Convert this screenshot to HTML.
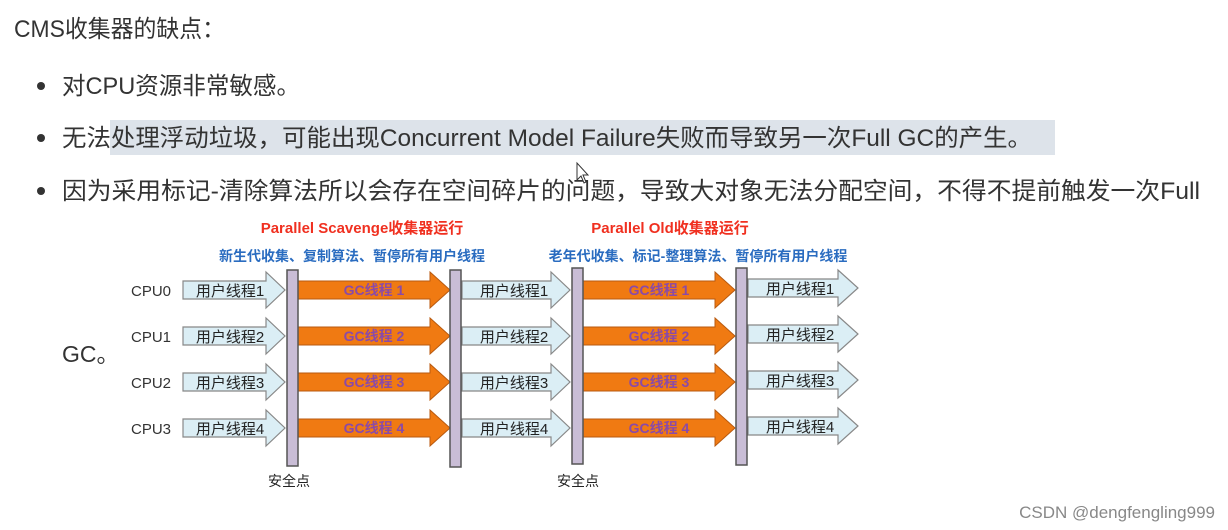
<!DOCTYPE html>
<html><head><meta charset="utf-8"><style>
html,body{margin:0;padding:0;background:#fff;}
svg{display:block;}
</style></head><body>
<svg width="1228" height="530" viewBox="0 0 1228 530" xmlns="http://www.w3.org/2000/svg">
<rect width="1228" height="530" fill="#fff"/>
<g font-family="'Liberation Sans','Noto Sans CJK SC',sans-serif" fill="#333" font-size="24">
<text x="14" y="37" textLength="211" lengthAdjust="spacingAndGlyphs">CMS收集器的缺点：</text>
<circle cx="41" cy="86" r="4" fill="#333"/>
<text x="62" y="94" textLength="238" lengthAdjust="spacingAndGlyphs">对CPU资源非常敏感。</text>
<rect x="110" y="120" width="945" height="35" fill="#dde3ea"/>
<circle cx="41" cy="138" r="4" fill="#333"/>
<text x="62" y="146" textLength="970" lengthAdjust="spacingAndGlyphs">无法处理浮动垃圾，可能出现Concurrent Model Failure失败而导致另一次Full GC的产生。</text>
<circle cx="41" cy="191" r="4" fill="#333"/>
<text x="62" y="199" textLength="1138" lengthAdjust="spacingAndGlyphs">因为采用标记-清除算法所以会存在空间碎片的问题，导致大对象无法分配空间，不得不提前触发一次Full</text>
<text x="62" y="362" font-size="23">GC。</text>
</g>
<path d="M577,163 L577,180 L581,176 L584,183 L586,182 L583,175 L588,175 Z" fill="#fff" stroke="#333" stroke-width="1"/>
<g font-family="'Liberation Sans','Noto Sans CJK SC',sans-serif" font-weight="bold" text-anchor="middle">
<text x="362" y="233" fill="#f03020" font-size="15">Parallel Scavenge收集器运行</text>
<text x="352" y="261" fill="#2a6cc0" font-size="14">新生代收集、复制算法、暂停所有用户线程</text>
<text x="670" y="233" fill="#f03020" font-size="15">Parallel Old收集器运行</text>
<text x="698" y="261" fill="#2a6cc0" font-size="14">老年代收集、标记-整理算法、暂停所有用户线程</text>
</g>
<g font-family="'Liberation Sans','Noto Sans CJK SC',sans-serif" font-size="15" fill="#333">
<text x="131" y="296">CPU0</text><text x="131" y="342">CPU1</text><text x="131" y="388">CPU2</text><text x="131" y="434">CPU3</text>
</g>
<g stroke="#888" stroke-width="1.2" fill="#dbeef5">
<path d="M183,281 H266 V272 L285,290 L266,308 V299 H183 Z"/>
<path d="M183,327 H266 V318 L285,336 L266,354 V345 H183 Z"/>
<path d="M183,373 H266 V364 L285,382 L266,400 V391 H183 Z"/>
<path d="M183,419 H266 V410 L285,428 L266,446 V437 H183 Z"/>
<path d="M462,281 H551 V272 L570,290 L551,308 V299 H462 Z"/>
<path d="M462,327 H551 V318 L570,336 L551,354 V345 H462 Z"/>
<path d="M462,373 H551 V364 L570,382 L551,400 V391 H462 Z"/>
<path d="M462,419 H551 V410 L570,428 L551,446 V437 H462 Z"/>
<path d="M748,279 H838 V270 L858,288 L838,306 V297 H748 Z"/>
<path d="M748,325 H838 V316 L858,334 L838,352 V343 H748 Z"/>
<path d="M748,371 H838 V362 L858,380 L838,398 V389 H748 Z"/>
<path d="M748,417 H838 V408 L858,426 L838,444 V435 H748 Z"/>
</g>
<g stroke="#b85a10" stroke-width="1" fill="#f07a12">
<path d="M298,281 H430 V272 L450,290 L430,308 V299 H298 Z"/>
<path d="M298,327 H430 V318 L450,336 L430,354 V345 H298 Z"/>
<path d="M298,373 H430 V364 L450,382 L430,400 V391 H298 Z"/>
<path d="M298,419 H430 V410 L450,428 L430,446 V437 H298 Z"/>
<path d="M583,281 H715 V272 L735,290 L715,308 V299 H583 Z"/>
<path d="M583,327 H715 V318 L735,336 L715,354 V345 H583 Z"/>
<path d="M583,373 H715 V364 L735,382 L715,400 V391 H583 Z"/>
<path d="M583,419 H715 V410 L735,428 L715,446 V437 H583 Z"/>
</g>
<g fill="#c9bdd6" stroke="#555" stroke-width="1.5">
<rect x="287" y="270" width="11" height="196"/>
<rect x="450" y="270" width="11" height="197"/>
<rect x="572" y="268" width="11" height="196"/>
<rect x="736" y="268" width="11" height="197"/>
</g>
<g font-family="'Liberation Sans','Noto Sans CJK SC',sans-serif" font-size="15" fill="#222" text-anchor="middle">
<text x="230" y="296">用户线程1</text><text x="230" y="342">用户线程2</text><text x="230" y="388">用户线程3</text><text x="230" y="434">用户线程4</text>
<text x="514" y="296">用户线程1</text><text x="514" y="342">用户线程2</text><text x="514" y="388">用户线程3</text><text x="514" y="434">用户线程4</text>
<text x="800" y="294">用户线程1</text><text x="800" y="340">用户线程2</text><text x="800" y="386">用户线程3</text><text x="800" y="432">用户线程4</text>
</g>
<g font-family="'Liberation Sans','Noto Sans CJK SC',sans-serif" font-size="14" font-weight="bold" fill="#8a4aa8" text-anchor="middle">
<text x="374" y="295">GC线程 1</text><text x="374" y="341">GC线程 2</text><text x="374" y="387">GC线程 3</text><text x="374" y="433">GC线程 4</text>
<text x="659" y="295">GC线程 1</text><text x="659" y="341">GC线程 2</text><text x="659" y="387">GC线程 3</text><text x="659" y="433">GC线程 4</text>
</g>
<g font-family="'Liberation Sans','Noto Sans CJK SC',sans-serif" font-size="14" fill="#222" text-anchor="middle">
<text x="289" y="486">安全点</text><text x="578" y="486">安全点</text>
</g>
<text x="1215" y="518" text-anchor="end" font-family="'Liberation Sans',sans-serif" font-size="17" fill="#888">CSDN @dengfengling999</text>
</svg>
</body></html>
